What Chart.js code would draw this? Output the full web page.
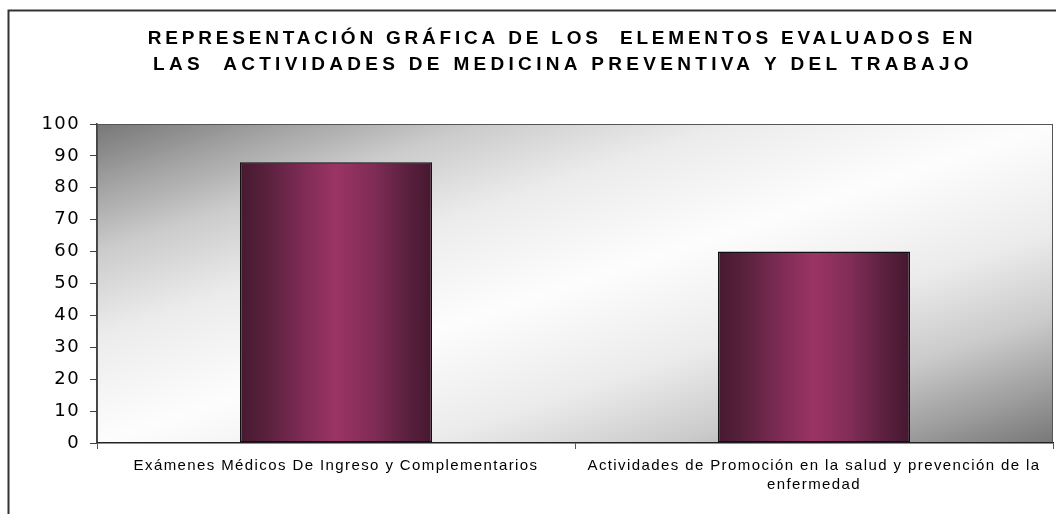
<!DOCTYPE html>
<html>
<head>
<meta charset="utf-8">
<script src="https://cdn.jsdelivr.net/npm/chart.js@4/dist/chart.umd.min.js"></script>
<style>
  html, body { margin: 0; padding: 0; background: #ffffff; }
  #wrap { position: relative; width: 1056px; height: 514px; }
</style>
</head>
<body>
<div id="wrap"><canvas id="c"></canvas></div>
<script>
// ---- data ----
const titleLines = [
  "REPRESENTACIÓN GRÁFICA DE LOS  ELEMENTOS EVALUADOS EN",
  "LAS  ACTIVIDADES DE MEDICINA PREVENTIVA Y DEL TRABAJO"
];
const categories = [
  "Exámenes Médicos De Ingreso y Complementarios",
  ["Actividades de Promoción en la salud y prevención de la", "enfermedad"]
];
const values = [88, 60];
const yMin = 0;
const yMax = 100;
const yStep = 10;

// ---- styling helpers ----
const BAR_FRACTION = 0.402;
const PLOT_LEFT = 97;
const PAD_LEFT = 20;

function barGradient(context) {
  const chart = context.chart;
  const xs = chart.scales && chart.scales.x;
  if (!xs || !chart.chartArea) return '#8a2e5a';
  const center = xs.getPixelForValue(context.dataIndex);
  const half = (xs.width / categories.length) * BAR_FRACTION / 2;
  const g = chart.ctx.createLinearGradient(center - half, 0, center + half, 0);
  g.addColorStop(0.00, '#471830');
  g.addColorStop(0.12, '#56203b');
  g.addColorStop(0.30, '#792a52');
  g.addColorStop(0.50, '#9b3465');
  g.addColorStop(0.70, '#7f2c56');
  g.addColorStop(0.88, '#58203c');
  g.addColorStop(1.00, '#461730');
  return g;
}

const framePlugin = {
  id: 'frame',
  beforeDraw(chart) {
    const ctx = chart.ctx;
    const a = chart.chartArea;
    ctx.save();
    // outer chart border
    ctx.strokeStyle = '#333333';
    ctx.lineWidth = 2;
    ctx.strokeRect(8.5, 10.5, 1200, 700);
    // plot area diagonal gradient (isolines parallel to anti-diagonal)
    const w = a.right - a.left, h = a.bottom - a.top;
    const k = 2 * w * h / (w * w + h * h);
    const g = ctx.createLinearGradient(a.left, a.top, a.left + k * h, a.top + k * w);
    g.addColorStop(0.00, '#777777');
    g.addColorStop(0.10, '#a2a2a2');
    g.addColorStop(0.20, '#cbcbcb');
    g.addColorStop(0.33, '#ebebeb');
    g.addColorStop(0.50, '#fdfdfd');
    g.addColorStop(0.67, '#ebebeb');
    g.addColorStop(0.80, '#cbcbcb');
    g.addColorStop(0.90, '#a2a2a2');
    g.addColorStop(1.00, '#787878');
    ctx.fillStyle = g;
    ctx.fillRect(a.left, a.top, w, h);
    ctx.strokeStyle = '#555555';
    ctx.lineWidth = 1;
    ctx.strokeRect(a.left + 0.5, a.top + 0.5, w - 1, h - 1);
    ctx.restore();
    ctx.letterSpacing = '1.4px';   // tick label spacing
  },
  afterDraw(chart) {
    const ctx = chart.ctx;
    ctx.letterSpacing = '0px';
    // chart title
    ctx.save();
    ctx.font = 'bold 19px "Liberation Sans"';
    ctx.fillStyle = '#000000';
    ctx.textAlign = 'center';
    ctx.textBaseline = 'middle';
    ctx.letterSpacing = '3.8px';
    ctx.fillText(titleLines[0], 562, 39);
    ctx.letterSpacing = '4.3px';
    ctx.fillText(titleLines[1], 563, 65);
    ctx.restore();
    ctx.letterSpacing = '0px';
  }
};

new Chart(document.getElementById('c'), {
  type: 'bar',
  data: {
    labels: categories,
    datasets: [{
      data: values,
      backgroundColor: barGradient,
      borderColor: '#111111',
      borderWidth: 1.5,
      borderSkipped: false,
      barPercentage: BAR_FRACTION,
      categoryPercentage: 1.0
    }]
  },
  options: {
    responsive: true,
    maintainAspectRatio: false,
    animation: false,
    layout: { padding: { left: PAD_LEFT, right: 3, top: 124, bottom: 12 } },
    plugins: {
      legend: { display: false },
      tooltip: { enabled: false },
      title: { display: false }
    },
    scales: {
      x: {
        type: 'category',
        offset: true,
        grid: { display: true, offset: true, drawOnChartArea: false, drawTicks: true, tickLength: 6, color: '#555555', lineWidth: 1 },
        border: { display: true, color: '#222222', width: 1.5 },
        ticks: {
          color: '#000000',
          font: { family: 'Liberation Sans', size: 15, lineHeight: 1.3 },
          padding: 7,
          maxRotation: 0,
          minRotation: 0,
          autoSkip: false
        }
      },
      y: {
        min: yMin,
        max: yMax,
        afterFit(scale) { scale.width = PLOT_LEFT - PAD_LEFT; },
        grid: { display: true, drawOnChartArea: false, drawTicks: true, tickLength: 7, color: '#444444', lineWidth: 1 },
        border: { display: true, color: '#444444', width: 1.5 },
        ticks: {
          stepSize: yStep,
          color: '#000000',
          font: { family: 'DejaVu Sans', size: 18 },
          padding: 10
        }
      }
    }
  },
  plugins: [framePlugin]
});
</script>
</body>
</html>
